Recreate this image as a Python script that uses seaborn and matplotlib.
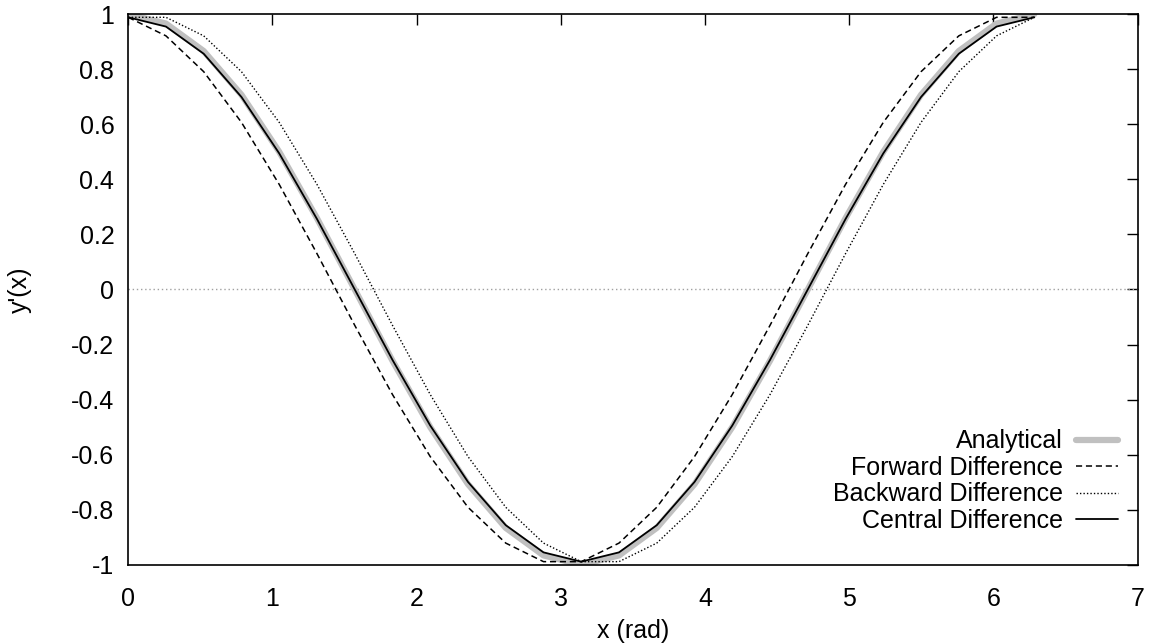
import numpy as np
import pandas as pd
import matplotlib
matplotlib.use("Agg")
import matplotlib.pyplot as plt
import seaborn as sns

# grid: 25 titik dari 0 sampai 2*pi (langkah pi/12)
x_vals = [0.0000, 0.2618, 0.5236, 0.7854, 1.0472, 1.3090, 1.5708, 1.8326,
          2.0944, 2.3562, 2.6180, 2.8798, 3.1416, 3.4034, 3.6652, 3.9270,
          4.1888, 4.4506, 4.7124, 4.9742, 5.2360, 5.4978, 5.7596, 6.0214,
          6.2832]

analytical = [1.0000, 0.9659, 0.8660, 0.7071, 0.5000, 0.2588, 0.0000, -0.2588,
              -0.5000, -0.7071, -0.8660, -0.9659, -1.0000, -0.9659, -0.8660, -0.7071,
              -0.5000, -0.2588, 0.0000, 0.2588, 0.5000, 0.7071, 0.8660, 0.9659,
              1.0000]

forward = [0.9886, 0.9212, 0.7911, 0.6070, 0.3816, 0.1302, -0.1302, -0.3816,
           -0.6070, -0.7911, -0.9212, -0.9886, -0.9886, -0.9212, -0.7911, -0.6070,
           -0.3816, -0.1302, 0.1302, 0.3816, 0.6070, 0.7911, 0.9212, 0.9886,
           0.9886]

backward = [0.9886, 0.9886, 0.9212, 0.7911, 0.6070, 0.3816, 0.1302, -0.1302,
            -0.3816, -0.6070, -0.7911, -0.9212, -0.9886, -0.9886, -0.9212, -0.7911,
            -0.6070, -0.3816, -0.1302, 0.1302, 0.3816, 0.6070, 0.7911, 0.9212,
            0.9886]

central = [0.9886, 0.9549, 0.8562, 0.6991, 0.4943, 0.2559, 0.0000, -0.2559,
           -0.4943, -0.6991, -0.8562, -0.9549, -0.9886, -0.9549, -0.8562, -0.6991,
           -0.4943, -0.2559, 0.0000, 0.2559, 0.4943, 0.6991, 0.8562, 0.9549,
           0.9886]

y_ticklabels = ['-1', '-0.8', '-0.6', '-0.4', '-0.2', '0', '0.2', '0.4', '0.6', '0.8', '1']

sns.set_theme(style="white")
plt.rcParams['font.family'] = ['Liberation Sans', 'DejaVu Sans']
plt.rcParams['text.color'] = 'black'
plt.rcParams['axes.labelcolor'] = 'black'

fig, ax = plt.subplots(figsize=(11.55, 6.44), dpi=100)
fig.subplots_adjust(left=0.111, right=0.985, top=0.978, bottom=0.123)

df = pd.DataFrame({'x': x_vals, 'analytical': analytical, 'forward': forward,
                   'backward': backward, 'central': central})

# garis nol
ax.axhline(0, color='#a0a0a0', lw=1, ls=(0, (1, 2)), zorder=1)

sns.lineplot(data=df, x='x', y='analytical', ax=ax, color='#c0c0c0', lw=4.5,
             solid_capstyle='round', label='Analytical', zorder=2)
sns.lineplot(data=df, x='x', y='forward', ax=ax, color='black', lw=1.1,
             ls=(0, (4, 2.5)), label='Forward Difference', zorder=3)
sns.lineplot(data=df, x='x', y='backward', ax=ax, color='black', lw=1.0,
             ls=(0, (1, 1.5)), label='Backward Difference', zorder=3)
sns.lineplot(data=df, x='x', y='central', ax=ax, color='black', lw=1.3,
             label='Central Difference', zorder=4)

ax.set_xlim(0, 7)
ax.set_ylim(-1, 1)
ax.set_xticks(range(0, 8))
ax.set_yticks(np.round(np.arange(-1, 1.01, 0.2), 1))
ax.set_yticklabels(y_ticklabels)
ax.tick_params(direction='in', length=8, width=1, top=True, right=True,
               labelsize=18, colors='black')
ax.tick_params(axis='x', pad=16)
ax.tick_params(axis='y', pad=10)
for s in ax.spines.values():
    s.set_color('black')
    s.set_linewidth(1.2)

ax.set_xlabel('x (rad)', fontsize=18, labelpad=5.5)
ax.set_ylabel("y'(x)", fontsize=18, labelpad=28)

leg = ax.legend(loc='lower right', bbox_to_anchor=(0.998, 0.026), frameon=False,
                markerfirst=False, fontsize=18, handlelength=1.7,
                labelspacing=0.1, handletextpad=0.5, borderpad=0.2)
for t in leg.get_texts():
    t.set_ha('right')

plt.savefig('out.png', dpi=100)
plt.close()
